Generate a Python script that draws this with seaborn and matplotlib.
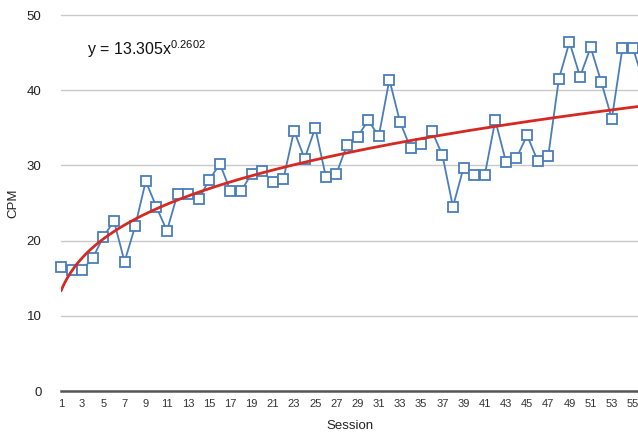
import numpy as np
import pandas as pd
import matplotlib
matplotlib.use("Agg")
import matplotlib.pyplot as plt
import matplotlib.transforms as mtrans
import seaborn as sns

sessions = list(range(1, 57))
cpm = [16.5, 16.1, 16.1, 17.7, 20.5, 22.6, 17.2, 21.9, 27.9, 24.5,
       21.3, 26.2, 26.2, 25.5, 28.1, 30.2, 26.6, 26.6, 28.9, 29.3,
       27.8, 28.2, 34.6, 30.9, 35.0, 28.5, 28.9, 32.7, 33.8, 36.0,
       33.9, 41.4, 35.8, 32.3, 32.8, 34.6, 31.4, 24.5, 29.7, 28.7,
       28.7, 36.0, 30.5, 31.0, 34.0, 30.6, 31.3, 41.5, 46.4, 41.8,
       45.7, 41.1, 36.2, 45.6, 45.6, 41.0]
fit_a = 13.305
fit_b = 0.2602
x_ticks = list(range(1, 57, 2))
y_ticks = [0, 10, 20, 30, 40, 50]

sns.set_theme(style="white")
plt.rcParams['font.family'] = ['Liberation Sans', 'DejaVu Sans']
plt.rcParams['mathtext.default'] = 'regular'

df = pd.DataFrame({"Session": sessions, "CPM": cpm})
xf = np.linspace(1, 56, 300)
fit_df = pd.DataFrame({"Session": xf, "CPM": fit_a * xf ** fit_b})

fig = plt.figure(figsize=(6.38, 4.34), dpi=100)
ax = fig.add_axes([61 / 638, 43 / 434, (638 - 61) / 638, 376 / 434])

for y in y_ticks[1:]:
    ax.axhline(y, color="#c8c8c8", lw=1.0, zorder=0)

sns.lineplot(data=df, x="Session", y="CPM", ax=ax, color="#4a7ebb", lw=1.3,
             marker="s", markersize=6.5, markerfacecolor="white",
             markeredgecolor="#4a7ebb", markeredgewidth=1.3, zorder=3)
for ln in ax.lines:
    ln.set_clip_on(False)
sns.lineplot(data=fit_df, x="Session", y="CPM", ax=ax, color="#d42a22", lw=2.0, zorder=4)

ax.set_xlim(1, 55.47)
ax.set_ylim(0, 50)
ax.set_xticks(x_ticks)
ax.set_xticklabels([str(t) for t in x_ticks], fontsize=8, color="#333333")
ax.set_yticks(y_ticks)
ax.set_yticklabels([str(t) for t in y_ticks], fontsize=9.5, color="#222222")
ax.tick_params(axis="both", length=0, pad=6)
ax.tick_params(axis="y", pad=14)

for s in ["top", "right", "left"]:
    ax.spines[s].set_visible(False)
ax.spines["bottom"].set_color("#555555")
ax.spines["bottom"].set_linewidth(1.8)
ax.spines["bottom"].set_clip_on(False)

ax.set_xlabel("Session", fontsize=9.5, color="#222222", labelpad=8)
ax.set_ylabel("CPM", fontsize=9.5, color="#222222")
ax.yaxis.set_label_coords((19 - 61) / 577, 0.5)

t = ax.text(87, 434 - 55, r"y = 13.305x$^{0.2602}$", fontsize=11.5, color="#111111")
t.set_transform(mtrans.IdentityTransform())

fig.savefig("out.png", dpi=100)
